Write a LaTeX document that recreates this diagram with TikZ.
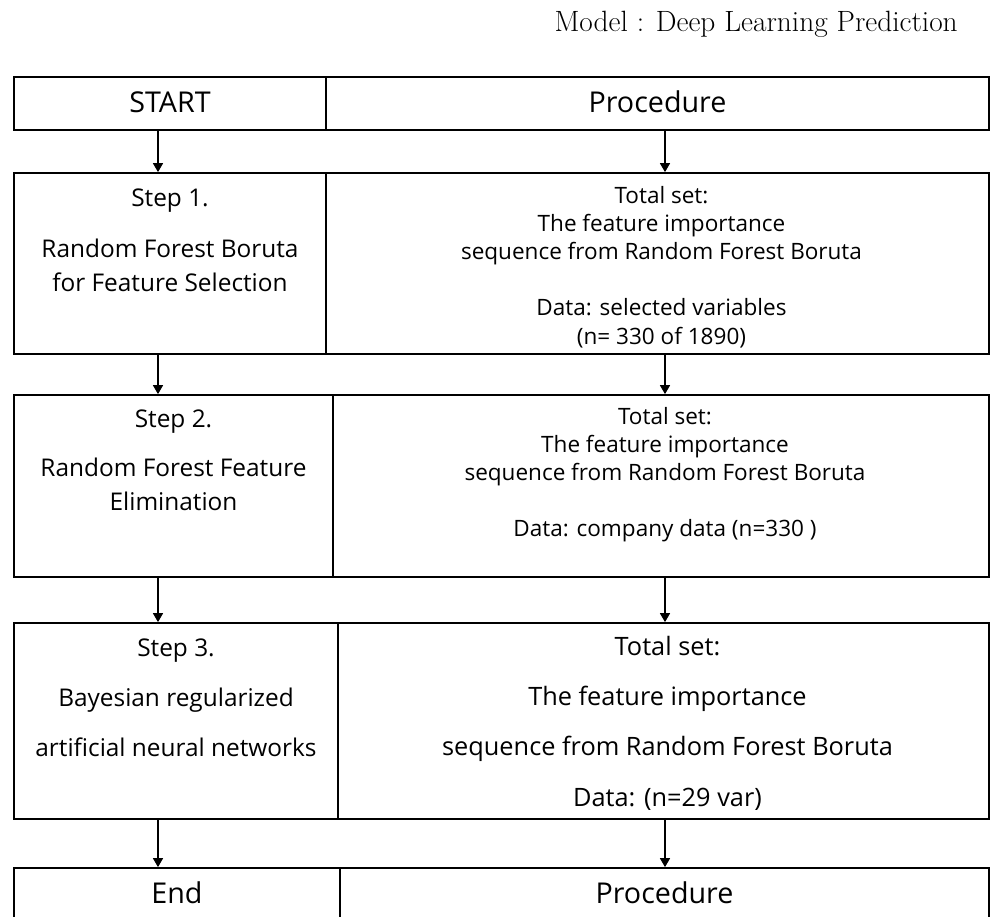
\documentclass[tikz,border=0pt]{standalone}
\usepackage{fontspec}
\newfontfamily\cellfont{Open Sans}
\newcommand\cellstrut{\rule{0pt}{1em}}
\usetikzlibrary{positioning,fit,arrows.meta}

\begin{document}
\begin{tikzpicture}[x=0.75pt,y=-0.75pt,
  cell/.style={draw, line width=1.3pt, inner sep=0pt, fit={#1}},
  txt/.style={inner sep=0pt, anchor=north, align=center},
  headtxt/.style={txt, font=\cellfont\fontsize{21.5}{26}\selectfont},
  steptxt/.style={txt, font=\cellfont\fontsize{18.3}{25.5}\selectfont},
  settxt/.style={txt, font=\cellfont\fontsize{16.9}{21.1}\selectfont},
  step3txt/.style={txt, font=\cellfont\fontsize{18.3}{37.5}\selectfont},
  set3txt/.style={txt, font=\cellfont\fontsize{19}{37.7}\selectfont},
  flow/.style={-{Triangle[length=6.75pt,width=7.5pt]}, line width=1.1pt}]
\clip (0,0) rectangle (997,917);

\node[anchor=base east, inner sep=0pt, font=\fontsize{22}{26}\selectfont] (title) at (958,32) {Model : Deep Learning Prediction};

% boxes
\node[cell={(14,77) (326,130)}] (hdL) {};
\node[cell={(326,77) (989,130)}] (hdR) {};
\node[cell={(14,173) (326,354)}] (st1) {};
\node[cell={(326,173) (989,354)}] (set1) {};
\node[cell={(14,395) (333,577)}] (st2) {};
\node[cell={(333,395) (989,577)}] (set2) {};
\node[cell={(14,623) (338,819)}] (st3) {};
\node[cell={(338,623) (989,819)}] (set3) {};
\node[cell={(14,868) (340,940)}] (endL) {};
\node[cell={(340,868) (989,940)}] (endR) {};

% texts
\node[headtxt, below=5.5pt of hdL.north] (t0L) {\cellstrut START};
\node[headtxt, below=5.5pt of hdR.north] (t0R) {\cellstrut Procedure};
\node[steptxt, below=7.2pt of st1.north] (t1L) {\cellstrut Step 1.\\[12.75pt]Random Forest Boruta\\for Feature Selection};
\node[settxt, below=6.35pt of set1.north, xshift=3pt] (t1R) {\cellstrut Total set:\\The feature importance\\sequence from Random Forest Boruta\\[21.1pt]Data: selected variables\\(n= 330 of 1890)};
\node[steptxt, below=6.45pt of st2.north] (t2L) {\cellstrut Step 2.\\[11.25pt]Random Forest Feature\\Elimination};
\node[settxt, below=5.6pt of set2.north, xshift=3pt] (t2R) {\cellstrut Total set:\\The feature importance\\sequence from Random Forest Boruta\\[21.1pt]Data: company data (n=330 )};
\node[step3txt, below=7.2pt of st3.north] (t3L) {\cellstrut Step 3.\\Bayesian regularized\\artificial neural networks};
\node[set3txt, below=5.75pt of set3.north, xshift=3pt] (t3R) {\cellstrut Total set:\\The feature importance\\sequence from Random Forest Boruta\\Data: (n=29 var)};
\node[headtxt, below=5.5pt of endL.north] (t4L) {\cellstrut End};
\node[headtxt, below=5.5pt of endR.north] (t4R) {\cellstrut Procedure};

% arrows
\coordinate (lx) at (158,0);
\coordinate (rx) at (665,0);
\foreach \a/\b in {hdL/st1, st1/st2, st2/st3, st3/endL}
  \draw[flow] (\a.south -| lx) -- (\b.north -| lx);
\foreach \a/\b in {hdR/set1, set1/set2, set2/set3, set3/endR}
  \draw[flow] (\a.south -| rx) -- (\b.north -| rx);
\end{tikzpicture}
\end{document}
